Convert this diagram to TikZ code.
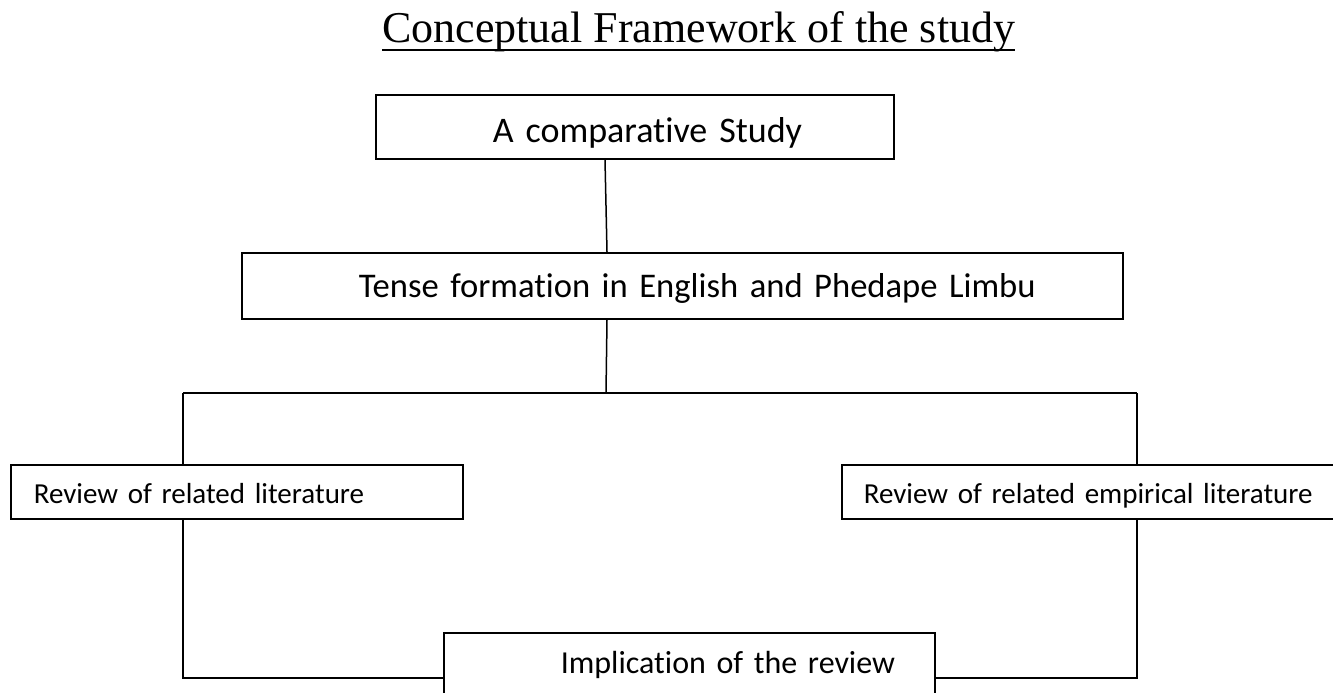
\documentclass[tikz,border=0pt]{standalone}
\usepackage{fontspec}
\newfontfamily\boxfont[Ligatures=NoCommon]{Carlito}
\newfontfamily\titlefont{Liberation Serif}
\begin{document}
\begin{tikzpicture}[x=1pt,y=-1pt,
  box/.style={draw, line width=1.6pt, rectangle, anchor=north west,
    inner xsep=0pt, inner ysep=0pt, align=left},
  link/.style={line width=1.5pt}]
\useasboundingbox (0,0) rectangle (1333,693);
\clip (0,0) rectangle (1333,693);

% title
\node[anchor=base west, inner sep=0pt, font=\titlefont\fontsize{44}{50}\selectfont]
  (title) at (382,43) {Conceptual Framework of the study};
\draw[line width=2pt] ([yshift=-7pt]title.base west) -- ([yshift=-7pt]title.base east);

% boxes
\node[box, text width=518pt, minimum height=64pt, text height=32pt, text depth=0pt,
  font=\boxfont\fontsize{36}{40}\selectfont]
  (cmp) at (375,94) {\hspace*{117pt}A comparative Study};
\node[box, text width=881pt, minimum height=66pt, text height=24pt, text depth=0pt,
  font=\boxfont\fontsize{34.6}{40}\selectfont]
  (tense) at (241,252) {\hspace*{117pt}Tense formation in English and Phedape Limbu};
\node[box, text width=452pt, minimum height=54pt, text height=24pt, text depth=0pt,
  font=\boxfont\fontsize{29}{34}\selectfont]
  (lit) at (10,464) {\hspace*{23pt}Review of related literature};
\node[box, text width=500pt, minimum height=54pt, text height=24pt, text depth=0pt,
  font=\boxfont\fontsize{29}{34}\selectfont]
  (emp) at (841,464) {\hspace*{22pt}Review of related empirical literature};
\node[box, text width=491pt, minimum height=64pt, text height=18pt, text depth=0pt,
  font=\boxfont\fontsize{32}{38}\selectfont]
  (impl) at (443,632) {\hspace*{117pt}Implication of the review};

% junctions of the connectors
\coordinate (split) at (606,393);
\coordinate (jl) at (183,393);
\coordinate (jr) at (1137,393);
\coordinate (bl) at (183,678);
\coordinate (br) at (1137,678);

% connectors
\draw[link] ([xshift=230pt]cmp.south west) -- ([xshift=366pt]tense.north west);
\draw[link] ([xshift=366pt]tense.south west) -- (split);
\draw[link] (jl) -- (jr);
\draw[link] (jl) -- (jl |- lit.north);
\draw[link] (jr) -- (jr |- emp.north);
\draw[link] (jl |- lit.south) -- (bl) -- (bl -| impl.west);
\draw[link] (jr |- emp.south) -- (br) -- (br -| impl.east);
\end{tikzpicture}
\end{document}
